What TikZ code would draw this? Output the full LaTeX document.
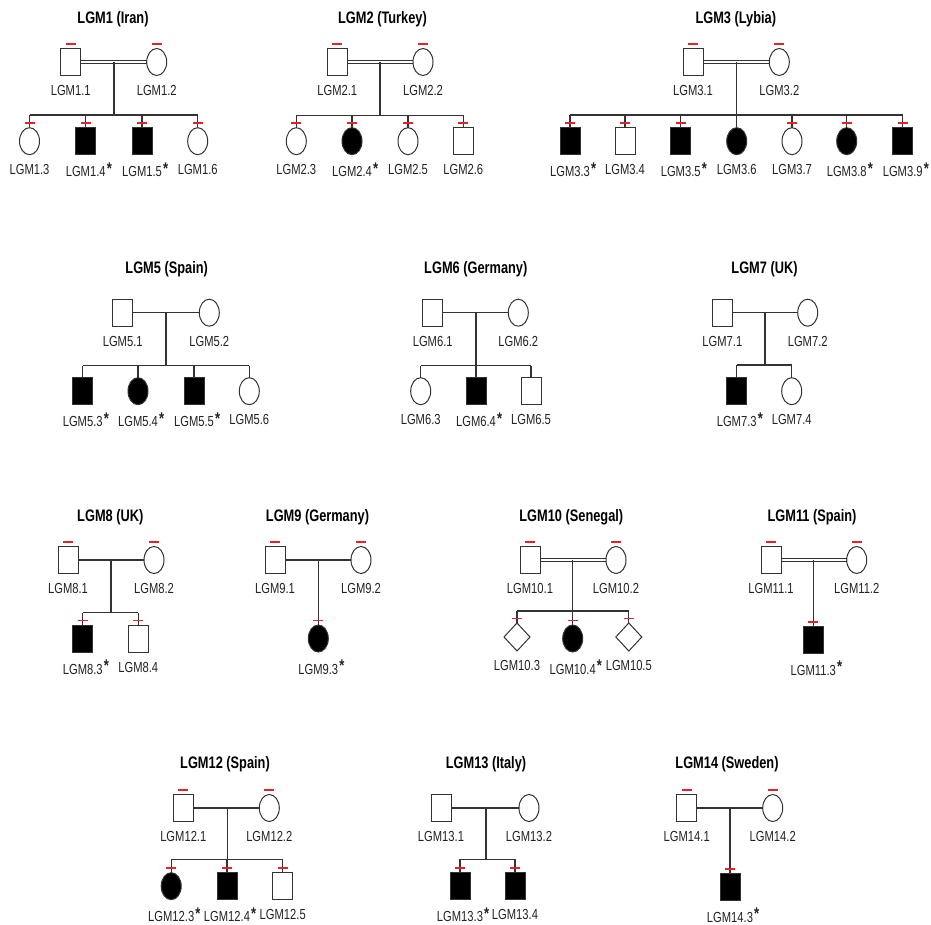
\documentclass[tikz,border=0pt]{standalone}
\usepackage{fontspec}
\usepackage{graphicx}
\setmainfont{Liberation Sans}
\usetikzlibrary{shapes.geometric,calc}
\definecolor{lc}{HTML}{333333}
\definecolor{tc}{HTML}{222222}
\definecolor{redc}{HTML}{E8202A}
\newcommand\lblfont{\fontsize{11.2}{13}\selectfont}
\newcommand\ttlfont{\fontsize{12.8}{15}\selectfont\bfseries}
\newcommand\stx[1]{\scalebox{1}[1.3]{#1}}
\newcommand\astk{\rlap{\hspace{1.2pt}\raisebox{2.2pt}{\fontsize{13}{13}\selectfont\bfseries *}}}
\newcommand\redmark[1]{\draw[rbar] ([xshift=-5pt,yshift=4.5pt]#1.north) -- ([xshift=5pt,yshift=4.5pt]#1.north);}
\newcommand\plab[3]{\node[lbl] (#1) at ([yshift=-15pt]#2.south) {\stx{#3}};}
\newcommand\dmarr[2]{\draw[ln] ([yshift=1.6pt]#1.east) -- ([yshift=1.6pt]#2.west); \draw[ln] ([yshift=-1.6pt]#1.east) -- ([yshift=-1.6pt]#2.west);}
\newcommand\smarr[2]{\draw[ln] (#1.east) -- (#2.west);}
\tikzset{
 ln/.style={draw=lc, line width=1.1pt},
 ind/.style={draw=lc, line width=1pt, fill=white, inner sep=0pt, outer sep=0pt},
 male/.style={ind, rectangle, minimum width=20pt, minimum height=27pt},
 fem/.style={ind, ellipse, minimum width=20pt, minimum height=27pt},
 unk/.style={ind, diamond, minimum width=26pt, minimum height=28pt},
 aff/.style={fill=black},
 kid/.style={anchor=north},
 lbl/.style={font=\lblfont, text=tc, inner sep=0pt, anchor=center},
 ttl/.style={font=\ttlfont, text=black, inner sep=0pt},
 rbar/.style={draw=redc, line width=1.8pt},
}
\begin{document}
\begin{tikzpicture}[x=1pt,y=-1pt]
\useasboundingbox[fill=white] (0,0) rectangle (931,925);

% ================= LGM1 =================
\node[ttl] (t1) at (113,19.5) {\stx{LGM1 (Iran)}};
\node[male] (p11) at (70.7,62) {};
\node[fem] (p12) at (156.7,62) {};
\dmarr{p11}{p12}
\coordinate (m1) at (114,62);
\coordinate (s1) at (114,115);
\node[fem,kid] (c13) at (29.5,127.7) {};
\node[male,aff,kid] (c14) at (85.7,127.7) {};
\node[male,aff,kid] (c15) at (142,127.7) {};
\node[fem,kid] (c16) at (197.7,127.7) {};
\draw[ln] (m1) -- (s1);
\draw[ln] (c13.north |- s1) -- (c16.north |- s1);
\foreach \c in {c13,c14,c15,c16} {\draw[ln] (\c.north |- s1) -- (\c.north);}
\foreach \c in {p11,p12,c13,c14,c15,c16} {\redmark{\c}}
\plab{l11}{p11}{LGM1.1}
\plab{l12}{p12}{LGM1.2}
\plab{l13}{c13}{LGM1.3}
\plab{l14}{c14}{LGM1.4\astk}
\plab{l15}{c15}{LGM1.5\astk}
\plab{l16}{c16}{LGM1.6}

% ================= LGM2 =================
\node[ttl] (t2) at (382.5,19.5) {\stx{LGM2 (Turkey)}};
\node[male] (p21) at (337.3,62) {};
\node[fem] (p22) at (423,62) {};
\dmarr{p21}{p22}
\coordinate (m2) at (380,62);
\coordinate (s2) at (380,115.5);
\node[fem,kid] (c23) at (296.3,127.7) {};
\node[fem,aff,kid] (c24) at (352,127.7) {};
\node[fem,kid] (c25) at (408,127.7) {};
\node[male,kid] (c26) at (463.3,127.7) {};
\draw[ln] (m2) -- (s2);
\draw[ln] (c23.north |- s2) -- (c26.north |- s2);
\foreach \c in {c23,c24,c25,c26} {\draw[ln] (\c.north |- s2) -- (\c.north);}
\foreach \c in {p21,p22,c23,c24,c25,c26} {\redmark{\c}}
\plab{l21}{p21}{LGM2.1}
\plab{l22}{p22}{LGM2.2}
\plab{l23}{c23}{LGM2.3}
\plab{l24}{c24}{LGM2.4\astk}
\plab{l25}{c25}{LGM2.5}
\plab{l26}{c26}{LGM2.6}

% ================= LGM3 =================
\node[ttl] (t3) at (735.8,19.5) {\stx{LGM3 (Lybia)}};
\node[male] (p31) at (693,62) {};
\node[fem] (p32) at (779.3,62) {};
\dmarr{p31}{p32}
\coordinate (m3) at (736.7,62);
\coordinate (s3) at (736.7,115);
\node[male,aff,kid] (c33) at (570,127.7) {};
\node[male,kid] (c34) at (625,127.7) {};
\node[male,aff,kid] (c35) at (680.7,127.7) {};
\node[fem,aff,kid] (c36) at (736.7,127.7) {};
\node[fem,kid] (c37) at (792,127.7) {};
\node[fem,aff,kid] (c38) at (846.7,127.7) {};
\node[male,aff,kid] (c39) at (902.7,127.7) {};
\draw[ln] (m3) -- (s3);
\draw[ln] (c33.north |- s3) -- (c39.north |- s3);
\foreach \c in {c33,c34,c35,c36,c37,c38,c39} {\draw[ln] (\c.north |- s3) -- (\c.north);}
\foreach \c in {p31,p32,c33,c34,c35,c37,c38,c39} {\redmark{\c}}
\plab{l31}{p31}{LGM3.1}
\plab{l32}{p32}{LGM3.2}
\plab{l33}{c33}{LGM3.3\astk}
\plab{l34}{c34}{LGM3.4}
\plab{l35}{c35}{LGM3.5\astk}
\plab{l36}{c36}{LGM3.6}
\plab{l37}{c37}{LGM3.7}
\plab{l38}{c38}{LGM3.8\astk}
\plab{l39}{c39}{LGM3.9\astk}

% ================= LGM5 =================
\node[ttl] (t5) at (166.7,269.3) {\stx{LGM5 (Spain)}};
\node[male] (p51) at (122.7,312.7) {};
\node[fem] (p52) at (209.3,312.7) {};
\smarr{p51}{p52}
\coordinate (m5) at (166,312.7);
\coordinate (s5) at (166,365.7);
\node[male,aff,kid] (c53) at (82.7,377.7) {};
\node[fem,aff,kid] (c54) at (138,377.7) {};
\node[male,aff,kid] (c55) at (194,377.7) {};
\node[fem,kid] (c56) at (249.3,377.7) {};
\draw[ln] (m5) -- (s5);
\draw[ln] (c53.north |- s5) -- (c56.north |- s5);
\foreach \c in {c53,c54,c55,c56} {\draw[ln] (\c.north |- s5) -- (\c.north);}
\plab{l51}{p51}{LGM5.1}
\plab{l52}{p52}{LGM5.2}
\plab{l53}{c53}{LGM5.3\astk}
\plab{l54}{c54}{LGM5.4\astk}
\plab{l55}{c55}{LGM5.5\astk}
\plab{l56}{c56}{LGM5.6}

% ================= LGM6 =================
\node[ttl] (t6) at (475.8,269.3) {\stx{LGM6 (Germany)}};
\node[male] (p61) at (432.7,312.7) {};
\node[fem] (p62) at (518.3,312.7) {};
\smarr{p61}{p62}
\coordinate (m6) at (476,312.7);
\coordinate (s6) at (476,365.7);
\node[fem,kid] (c63) at (420.7,377.7) {};
\node[male,aff,kid] (c64) at (476,377.7) {};
\node[male,kid] (c65) at (531,377.7) {};
\draw[ln] (m6) -- (s6);
\draw[ln] (c63.north |- s6) -- (c65.north |- s6);
\foreach \c in {c63,c64,c65} {\draw[ln] (\c.north |- s6) -- (\c.north);}
\plab{l61}{p61}{LGM6.1}
\plab{l62}{p62}{LGM6.2}
\plab{l63}{c63}{LGM6.3}
\plab{l64}{c64}{LGM6.4\astk}
\plab{l65}{c65}{LGM6.5}

% ================= LGM7 =================
\node[ttl] (t7) at (764.5,269.3) {\stx{LGM7 (UK)}};
\node[male] (p71) at (722.3,312.7) {};
\node[fem] (p72) at (807.7,312.7) {};
\smarr{p71}{p72}
\coordinate (m7) at (765,312.7);
\coordinate (s7) at (765,365);
\node[male,aff,kid] (c73) at (736.7,377.7) {};
\node[fem,kid] (c74) at (791.7,377.7) {};
\draw[ln] (m7) -- (s7);
\draw[ln] (c73.north |- s7) -- (c74.north |- s7);
\foreach \c in {c73,c74} {\draw[ln] (\c.north |- s7) -- (\c.north);}
\plab{l71}{p71}{LGM7.1}
\plab{l72}{p72}{LGM7.2}
\plab{l73}{c73}{LGM7.3\astk}
\plab{l74}{c74}{LGM7.4}

% ================= LGM8 =================
\node[ttl] (t8) at (110.3,517.3) {\stx{LGM8 (UK)}};
\node[male] (p81) at (68,560) {};
\node[fem] (p82) at (154,560) {};
\smarr{p81}{p82}
\coordinate (m8) at (111,560);
\coordinate (s8) at (111,612.7);
\node[male,aff,kid] (c83) at (82.8,625) {};
\node[male,kid] (c84) at (138.3,625) {};
\draw[ln] (m8) -- (s8);
\draw[ln] (c83.north |- s8) -- (c84.north |- s8);
\foreach \c in {c83,c84} {\draw[ln] (\c.north |- s8) -- (\c.north);}
\foreach \c in {p81,p82,c83,c84} {\redmark{\c}}
\plab{l81}{p81}{LGM8.1}
\plab{l82}{p82}{LGM8.2}
\plab{l83}{c83}{LGM8.3\astk}
\plab{l84}{c84}{LGM8.4}

% ================= LGM9 =================
\node[ttl] (t9) at (317.5,517.3) {\stx{LGM9 (Germany)}};
\node[male] (p91) at (275,560) {};
\node[fem] (p92) at (361,560) {};
\smarr{p91}{p92}
\coordinate (m9) at (318.3,560);
\node[fem,aff,kid] (c93) at (318.3,625) {};
\draw[ln] (m9) -- (c93.north);
\foreach \c in {p91,p92,c93} {\redmark{\c}}
\plab{l91}{p91}{LGM9.1}
\plab{l92}{p92}{LGM9.2}
\plab{l93}{c93}{LGM9.3\astk}

% ================= LGM10 =================
\node[ttl] (t10) at (571.3,517.3) {\stx{LGM10 (Senegal)}};
\node[male] (p101) at (530,560) {};
\node[fem] (p102) at (616,560) {};
\dmarr{p101}{p102}
\coordinate (m10) at (572.7,560);
\coordinate (s10) at (572.7,611);
\node[unk,kid] (c103) at (517,623) {};
\node[fem,aff,kid] (c104) at (572.7,625) {};
\node[unk,kid] (c105) at (628.8,623) {};
\draw[ln] (m10) -- (s10);
\draw[ln] (c103.north |- s10) -- (c105.north |- s10);
\foreach \c in {c103,c104,c105} {\draw[ln] (\c.north |- s10) -- (\c.north);}
\foreach \c in {p101,p102,c103,c104,c105} {\redmark{\c}}
\plab{l101}{p101}{LGM10.1}
\plab{l102}{p102}{LGM10.2}
\node[lbl] (l103) at ([yshift=-14pt]c103.south) {\stx{LGM10.3}};
\plab{l104}{c104}{LGM10.4\astk}
\node[lbl] (l105) at ([yshift=-14pt]c105.south) {\stx{LGM10.5}};

% ================= LGM11 =================
\node[ttl] (t11) at (812,517.3) {\stx{LGM11 (Spain)}};
\node[male] (p111) at (771,560) {};
\node[fem] (p112) at (856.7,560) {};
\dmarr{p111}{p112}
\coordinate (m11) at (813.3,560);
\node[male,aff,kid] (c113) at (813.3,626.5) {};
\draw[ln] (m11) -- (c113.north);
\foreach \c in {p111,p112,c113} {\redmark{\c}}
\plab{l111}{p111}{LGM11.1}
\plab{l112}{p112}{LGM11.2}
\plab{l113}{c113}{LGM11.3\astk}

% ================= LGM12 =================
\node[ttl] (t12) at (225,764) {\stx{LGM12 (Spain)}};
\node[male] (p121) at (183.3,808) {};
\node[fem] (p122) at (269.3,808) {};
\smarr{p121}{p122}
\coordinate (m12) at (227.3,808);
\coordinate (s12) at (227.3,859.3);
\node[fem,aff,kid] (c123) at (171.2,872.7) {};
\node[male,aff,kid] (c124) at (227,872.7) {};
\node[male,kid] (c125) at (282.7,872.7) {};
\draw[ln] (m12) -- (s12);
\draw[ln] (c123.north |- s12) -- (c125.north |- s12);
\foreach \c in {c123,c124,c125} {\draw[ln] (\c.north |- s12) -- (\c.north);}
\foreach \c in {p121,p122,c123,c124,c125} {\redmark{\c}}
\plab{l121}{p121}{LGM12.1}
\plab{l122}{p122}{LGM12.2}
\plab{l123}{c123}{LGM12.3\astk}
\plab{l124}{c124}{LGM12.4\astk}
\plab{l125}{c125}{LGM12.5}

% ================= LGM13 =================
\node[ttl] (t13) at (486,764) {\stx{LGM13 (Italy)}};
\node[male] (p131) at (441,808) {};
\node[fem] (p132) at (529,808) {};
\smarr{p131}{p132}
\coordinate (m13) at (486,808);
\coordinate (s13) at (486,859.3);
\node[male,aff,kid] (c133) at (460,872.7) {};
\node[male,aff,kid] (c134) at (515,872.7) {};
\draw[ln] (m13) -- (s13);
\draw[ln] (c133.north |- s13) -- (c134.north |- s13);
\foreach \c in {c133,c134} {\draw[ln] (\c.north |- s13) -- (\c.north);}
\foreach \c in {c133,c134} {\redmark{\c}}
\plab{l131}{p131}{LGM13.1}
\plab{l132}{p132}{LGM13.2}
\plab{l133}{c133}{LGM13.3\astk}
\plab{l134}{c134}{LGM13.4}

% ================= LGM14 =================
\node[ttl] (t14) at (727,764) {\stx{LGM14 (Sweden)}};
\node[male] (p141) at (686.7,808) {};
\node[fem] (p142) at (772.7,808) {};
\smarr{p141}{p142}
\coordinate (m14) at (730,808);
\node[male,aff,kid] (c143) at (730,873.3) {};
\draw[ln] (m14) -- (c143.north);
\foreach \c in {p141,p142,c143} {\redmark{\c}}
\plab{l141}{p141}{LGM14.1}
\plab{l142}{p142}{LGM14.2}
\plab{l143}{c143}{LGM14.3\astk}
\end{tikzpicture}
\end{document}
